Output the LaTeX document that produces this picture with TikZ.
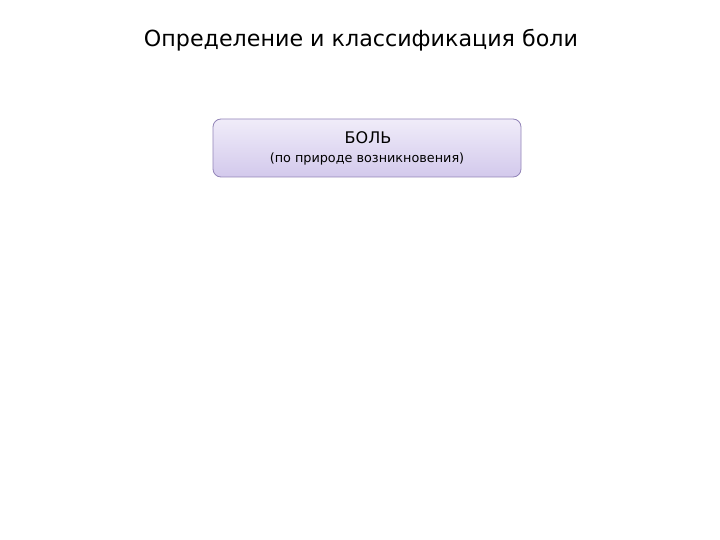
\documentclass[tikz,border=0pt]{standalone}
\usepackage{fontspec}
\setmainfont{DejaVu Sans}
\definecolor{boxtop}{HTML}{F0ECF9}
\definecolor{boxbot}{HTML}{D3C9EC}
\definecolor{boxline}{HTML}{9284B8}
\tikzset{
  titletext/.style={font=\fontsize{22.2}{26}\selectfont, text=black},
  mainbox/.style={draw=boxline, line width=0.8pt, rounded corners=8pt,
    top color=boxtop, bottom color=boxbot, minimum width=308pt, minimum height=58pt,
    align=center, inner sep=0pt},
}
\begin{document}
\begin{tikzpicture}[x=1pt,y=-1pt]
\useasboundingbox[fill=white] (0,0) rectangle (720,540);
\node[titletext] (title) at (361,40) {Определение и классификация боли};
\node[mainbox] (box) at (367,148) {};
\node[font=\fontsize{16}{18}\selectfont] (bol) at (368,138) {БОЛЬ};
\node[font=\fontsize{12.8}{15}\selectfont] (sub) at (367,159) {(по природе возникновения)};
\end{tikzpicture}
\end{document}
